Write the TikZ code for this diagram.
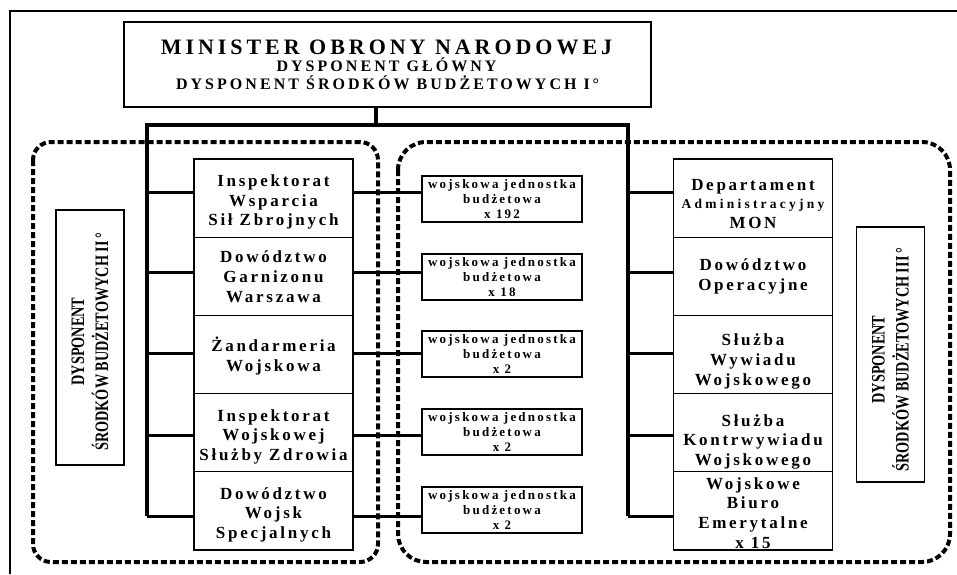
\documentclass[tikz,border=0pt]{standalone}
\usepackage{fontspec}
\setmainfont{Liberation Serif}
\newfontfamily\lsA[LetterSpace=18]{Liberation Serif}
\newfontfamily\lsB[LetterSpace=19]{Liberation Serif}
\newfontfamily\lsC[LetterSpace=16]{Liberation Serif}
\newfontfamily\lsD[LetterSpace=17]{Liberation Serif}
\newfontfamily\lsE[LetterSpace=24]{Liberation Serif}
\newfontfamily\cnf[FakeStretch=0.75]{Liberation Serif}
\begin{document}
\begin{tikzpicture}[x=1pt,y=-1pt,
  box/.style={draw, line width=1.2pt, fill=white, inner sep=0pt, align=center},
  colbox/.style={box, minimum width=159pt, minimum height=78.2pt},
  coltxt/.style={inner sep=0pt, align=center, font=\lsC\bfseries\fontsize{17}{19.6}\selectfont},
  midbox/.style={box, minimum width=160pt, minimum height=46pt,
    font=\lsD\bfseries\fontsize{13}{15}\selectfont},
  sidebox/.style={box, minimum width=68pt, minimum height=255pt},
  sidetxt/.style={inner sep=0pt, align=center, rotate=90,
    font=\cnf\bfseries\fontsize{19}{24}\selectfont},
  ttl/.style={inner sep=0pt, anchor=base, font=\lsA\bfseries\fontsize{22}{24}\selectfont},
  sub/.style={inner sep=0pt, anchor=base, font=\lsB\bfseries\fontsize{16}{18}\selectfont},
  busline/.style={line width=3.2pt},
  link/.style={line width=3pt},
  zone/.style={line width=4pt, dash pattern=on 6pt off 3pt},
  frame/.style={line width=1.6pt}]
\useasboundingbox (0,0) rectangle (957,574);

% outer frame (only top and left visible)
\draw[frame] (10,574) -- (10,11) -- (957,11);

% dotted zones
\draw[zone, rounded corners=18pt] (33,142) rectangle (378,562);
\draw[zone, rounded corners=28pt] (398,142) rectangle (950,562);

% top box
\node[draw, line width=1.2pt, minimum width=527pt, minimum height=85pt, inner sep=0pt] (top) at (387.5,64.5) {};
\node[ttl] (t1) at (386.5,54) {MINISTER OBRONY NARODOWEJ};
\node[sub] (t2) at (386.5,71.7) {DYSPONENT GŁÓWNY};
\node[sub] (t3) at (387.5,89.3) {DYSPONENT ŚRODKÓW BUDŻETOWYCH I\,°};

% bus coordinates
\coordinate (bus) at (376,125);
\coordinate (lb) at (147,125);
\coordinate (rb) at (628,125);
\coordinate (y1) at (0,192);
\coordinate (y2) at (0,272);
\coordinate (y3) at (0,353);
\coordinate (y4) at (0,435.5);
\coordinate (y5) at (0,516);

% left column
\node[colbox, label={[coltxt, name=L1t, yshift=-4pt]center:{Inspektorat\\Wsparcia\\Sił Zbrojnych}}] (L1) at (273.5,198.1) {};
\node[colbox, label={[coltxt, name=L2t, yshift=-0.5pt]center:{Dowództwo\\Garnizonu\\Warszawa}}] (L2) at (273.5,276.3) {};
\node[colbox, label={[coltxt, name=L3t, yshift=-1.5pt]center:{Żandarmeria\\Wojskowa}}] (L3) at (273.5,354.5) {};
\node[colbox, label={[coltxt, name=L4t, yshift=-4pt]center:{Inspektorat\\Wojskowej\\Służby Zdrowia}}] (L4) at (273.5,432.7) {};
\node[colbox, label={[coltxt, name=L5t, yshift=-4pt]center:{Dowództwo\\Wojsk\\Specjalnych}}] (L5) at (273.5,510.9) {};

% middle column
\node[midbox] (M1) at (502,199) {wojskowa jednostka\\budżetowa\\x 192};
\node[midbox] (M2) at (502,277) {wojskowa jednostka\\budżetowa\\x 18};
\node[midbox] (M3) at (502,354) {wojskowa jednostka\\budżetowa\\x 2};
\node[midbox] (M4) at (502,432) {wojskowa jednostka\\budżetowa\\x 2};
\node[midbox] (M5) at (502,510) {wojskowa jednostka\\budżetowa\\x 2};

% right column
\node[colbox, label={[coltxt, name=R1t, yshift=-6pt]center:{Departament\\[-2pt]{\lsE\fontsize{13.5}{15}\selectfont Administracyjny}\\MON}}] (R1) at (753,198.1) {};
\node[colbox, label={[coltxt, name=R2t]center:{Dowództwo\\Operacyjne}}] (R2) at (753,276.3) {};
\node[colbox, label={[coltxt, name=R3t, yshift=-7pt]center:{Służba\\Wywiadu\\Wojskowego}}] (R3) at (753,354.5) {};
\node[colbox, label={[coltxt, name=R4t, yshift=-9pt]center:{Służba\\Kontrwywiadu\\Wojskowego}}] (R4) at (753,432.7) {};
\node[colbox, label={[coltxt, name=R5t, yshift=-2pt]center:{Wojskowe\\Biuro\\Emerytalne\\x 15}}] (R5) at (753,510.9) {};

% side labels
\node[sidebox, label={[sidetxt, name=SLt, xshift=-4pt]center:{DYSPONENT\\ŚRODKÓW BUDŻETOWYCH II\,°}}] (SL) at (90,337.5) {};
\node[sidebox, label={[sidetxt, name=SRt, xshift=-5pt]center:{DYSPONENT\\ŚRODKÓW BUDŻETOWYCH III\,°}}] (SR) at (890.5,354.5) {};

% connectors
\draw[busline] (top.south -| bus) -- (bus);
\draw[busline] (lb |- y5) -- (lb) -- (rb) -- (rb |- y5);
\foreach \i in {1,...,5} {
  \draw[link] (lb |- y\i) -- (L\i.west |- y\i);
  \draw[link] (L\i.east |- y\i) -- (M\i.west |- y\i);
  \draw[link] (rb |- y\i) -- (R\i.west |- y\i);
}
\end{tikzpicture}
\end{document}
